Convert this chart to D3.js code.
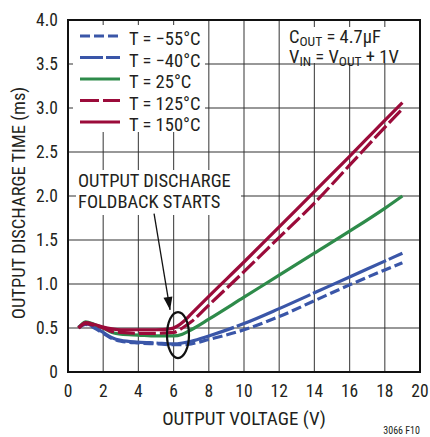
<!DOCTYPE html>
<html><head><meta charset="utf-8">
<script src="https://cdn.jsdelivr.net/npm/d3@7"></script>
<style>
html,body{margin:0;padding:0;background:#fff;}
svg text{font-family:"Liberation Sans Narrow","Roboto Condensed","Arial Narrow",sans-serif;fill:#231f20;}
</style></head>
<body><svg id="c" width="430" height="437"></svg>
<script>
// ---- data ----
const seriesNames = ["T = \u221255\u00B0C","T = \u221240\u00B0C","T = 25\u00B0C","T = 125\u00B0C","T = 150\u00B0C"];
const xTicks = [0,2,4,6,8,10,12,14,16,18,20];
const yTicks = [0,0.5,1.0,1.5,2.0,2.5,3.0,3.5,4.0];
const vM55 = [[0.6,0.50],[1.0,0.54],[1.5,0.50],[2.0,0.44],[2.5,0.38],[3.0,0.35],[4.0,0.33],[5.0,0.32],[6.0,0.31],[6.5,0.31],[7.0,0.32],[8.0,0.37],[10,0.48],[12,0.63],[14,0.81],[16,0.99],[18,1.16],[19,1.24]];
const vM40 = [[0.6,0.51],[1.0,0.55],[1.5,0.51],[2.0,0.45],[2.5,0.39],[3.0,0.36],[4.0,0.34],[5.0,0.33],[6.0,0.32],[6.5,0.33],[7.0,0.35],[8.0,0.41],[10,0.55],[12,0.72],[14,0.90],[16,1.08],[18,1.26],[19,1.35]];
const v25  = [[0.6,0.50],[1.0,0.57],[1.5,0.54],[2.0,0.50],[2.5,0.45],[3.0,0.43],[4.0,0.42],[5.0,0.41],[6.0,0.41],[6.5,0.43],[7.0,0.48],[8.0,0.60],[10,0.85],[12,1.10],[14,1.35],[16,1.60],[18,1.86],[19,2.00]];
const v125 = [[0.6,0.50],[1.0,0.55],[1.5,0.53],[2.0,0.50],[2.5,0.46],[3.0,0.45],[4.0,0.44],[5.0,0.44],[6.0,0.45],[6.5,0.50],[7.0,0.57],[8.0,0.76],[10,1.14],[12,1.53],[14,1.92],[16,2.35],[18,2.78],[19,2.99]];
const v150 = [[0.6,0.50],[0.8,0.54],[1.0,0.56],[1.5,0.54],[2.0,0.51],[2.5,0.49],[3.0,0.48],[4.0,0.48],[5.0,0.48],[5.8,0.49],[6.2,0.52],[6.6,0.58],[7.0,0.66],[8.0,0.86],[10,1.25],[12,1.65],[14,2.05],[16,2.45],[18,2.86],[19,3.06]];
const seriesData = [vM55, vM40, v25, v125, v150];

// ---- styles ----
const colors = ["#3a56a8","#3a56a8","#2e8b4a","#9b0b3a","#9b0b3a"];
const dashes = ["10,4","80,3",null,"17,4",null];
const legendDashes = ["10,4","23,3",null,"19,4",null];

const svg = d3.select("#c");
const L=68, R=420, T=20, B=372;
const x = d3.scaleLinear().domain([0,20]).range([L,R]);
const y = d3.scaleLinear().domain([0,4]).range([B,T]);

// grid
const g = svg.append("g");
g.selectAll("line.v").data(xTicks.slice(1,-1)).enter().append("line")
  .attr("x1",d=>x(d)).attr("x2",d=>x(d)).attr("y1",T).attr("y2",B)
  .attr("stroke","#555").attr("stroke-width",1.2);
g.selectAll("line.h").data(yTicks.slice(1,-1)).enter().append("line")
  .attr("x1",L).attr("x2",R).attr("y1",d=>y(d)).attr("y2",d=>y(d))
  .attr("stroke","#333").attr("stroke-width",1.2);

// white boxes behind texts
svg.append("rect").attr("x",73).attr("y",25).attr("width",132).attr("height",107).attr("fill","#fff");
svg.append("rect").attr("x",287).attr("y",27).attr("width",126).attr("height",36).attr("fill","#fff");
svg.append("rect").attr("x",76).attr("y",170).attr("width",165).attr("height",45).attr("fill","#fff");

// lines
const line = d3.line().x(d=>x(d[0])).y(d=>y(d[1])).curve(d3.curveMonotoneX);
svg.selectAll("path.s").data(seriesData).enter().append("path")
  .attr("d",line).attr("fill","none")
  .attr("stroke",(d,i)=>colors[i]).attr("stroke-width",3.2)
  .attr("stroke-dasharray",(d,i)=>dashes[i]);

// frame
svg.append("rect").attr("x",L).attr("y",T).attr("width",R-L).attr("height",B-T)
  .attr("fill","none").attr("stroke","#111").attr("stroke-width",2);

// axis labels
svg.selectAll("text.xt").data(xTicks).enter().append("text")
  .attr("x",d=>x(d)).attr("y",397).attr("text-anchor","middle")
  .attr("font-size",17.5).text(d=>d);
svg.selectAll("text.yt").data(yTicks).enter().append("text")
  .attr("x",58).attr("y",d=>y(d)+6).attr("text-anchor","end")
  .attr("font-size",17.5).text(d=>d===0?"0":d.toFixed(1));
svg.append("text").attr("x",244).attr("y",425).attr("text-anchor","middle")
  .attr("font-size",19).text("OUTPUT VOLTAGE (V)");
svg.append("text").attr("transform","translate(25,203) rotate(-90)")
  .attr("text-anchor","middle").attr("font-size",18.5).text("OUTPUT DISCHARGE TIME (ms)");
svg.append("text").attr("x",420).attr("y",434).attr("text-anchor","end")
  .attr("font-size",10).text("3066 F10");

// legend
const lg = svg.append("g");
seriesNames.forEach((nm,i)=>{
  const yy = 36 + i*21.5;
  lg.append("line").attr("x1",80).attr("x2",120).attr("y1",yy).attr("y2",yy)
    .attr("stroke",colors[i]).attr("stroke-width",3.2)
    .attr("stroke-dasharray",legendDashes[i]);
  lg.append("text").attr("x",129).attr("y",yy+9).attr("font-size",18.5).text(nm);
});

// conditions text
const t1 = svg.append("text").attr("x",289).attr("y",43).attr("font-size",18.5);
t1.append("tspan").text("C");
t1.append("tspan").attr("font-size",13.5).attr("dy",3).text("OUT");
t1.append("tspan").attr("dy",-3).text(" = 4.7\u00B5F");
const t2 = svg.append("text").attr("x",289).attr("y",63).attr("font-size",18.5);
t2.append("tspan").text("V");
t2.append("tspan").attr("font-size",13.5).attr("dy",3).text("IN");
t2.append("tspan").attr("dy",-3).text(" = V");
t2.append("tspan").attr("font-size",13.5).attr("dy",3).text("OUT");
t2.append("tspan").attr("dy",-3).text(" + 1V");

// annotation
svg.append("text").attr("x",78).attr("y",187).attr("font-size",18.5).text("OUTPUT DISCHARGE");
svg.append("text").attr("x",78).attr("y",208).attr("font-size",18.5).text("FOLDBACK STARTS");
svg.append("ellipse").attr("cx",x(6.25)).attr("cy",y(0.42)).attr("rx",11).attr("ry",23)
  .attr("fill","none").attr("stroke","#111").attr("stroke-width",2.2);
const ax0=[4.89,1.80], ax1=[5.80,0.705];
svg.append("line").attr("x1",x(ax0[0])).attr("y1",y(ax0[1])).attr("x2",x(ax1[0])).attr("y2",y(ax1[1]))
  .attr("stroke","#111").attr("stroke-width",1.3);
{
  const X1=x(ax1[0]), Y1=y(ax1[1]), X0=x(ax0[0]), Y0=y(ax0[1]);
  const ang=Math.atan2(Y1-Y0,X1-X0), len=13, w=4.5;
  const bx=X1-len*Math.cos(ang), by=Y1-len*Math.sin(ang);
  const px=-Math.sin(ang)*w, py=Math.cos(ang)*w;
  svg.append("path").attr("d",`M${X1},${Y1}L${bx+px},${by+py}L${bx-px},${by-py}Z`).attr("fill","#111");
}
</script></body></html>
